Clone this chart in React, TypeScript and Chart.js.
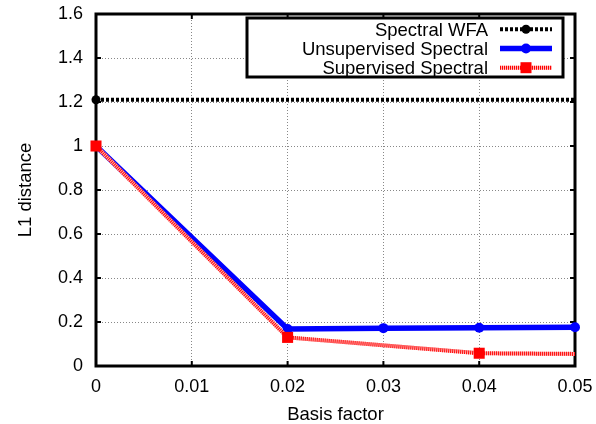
import React, { useEffect, useRef } from "react";
import { Chart, registerables } from "chart.js";

Chart.register(...registerables);

const seriesNames = ["Spectral WFA", "Unsupervised Spectral", "Supervised Spectral"];
const wfaX = [0, 0.05];
const wfaY = [1.21, 1.21];
const unsupX = [0, 0.02, 0.03, 0.04, 0.05];
const unsupY = [1.0, 0.168, 0.172, 0.174, 0.176];
const supX = [0, 0.02, 0.04, 0.05];
const supY = [1.0, 0.13, 0.058, 0.055];
const xTickValues = [0, 0.01, 0.02, 0.03, 0.04, 0.05];
const yTickValues = [0, 0.2, 0.4, 0.6, 0.8, 1, 1.2, 1.4, 1.6];
const xTitle = "Basis factor";
const yTitle = "L1 distance";

const FONT = "'Liberation Sans', Arial, Helvetica, sans-serif";
const TICK_SIZE = 18;
const TEXT_SIZE = 18.5;

const toPoints = (xs: number[], ys: number[]) => xs.map((x, i) => ({ x, y: ys[i] }));

const framePlugin = {
  id: "frame",
  beforeDatasetsDraw(chart: any) {
    const { ctx, chartArea } = chart;
    const { left, right, top, bottom } = chartArea;
    const xs = chart.scales.x;
    const ys = chart.scales.y;
    ctx.save();
    ctx.strokeStyle = "#000";
    ctx.lineWidth = 2;
    ctx.setLineDash([]);
    const t = 5;
    yTickValues.forEach((v) => {
      const py = ys.getPixelForValue(v);
      ctx.beginPath();
      ctx.moveTo(left, py);
      ctx.lineTo(left + t, py);
      ctx.moveTo(right, py);
      ctx.lineTo(right - t, py);
      ctx.stroke();
    });
    xTickValues.forEach((v) => {
      const px = xs.getPixelForValue(v);
      ctx.beginPath();
      ctx.moveTo(px, bottom);
      ctx.lineTo(px, bottom - t);
      ctx.moveTo(px, top);
      ctx.lineTo(px, top + t);
      ctx.stroke();
    });
    ctx.lineWidth = 3;
    ctx.strokeRect(left, top, right - left, bottom - top);
    ctx.restore();
  },
};

const legendPlugin = {
  id: "customLegend",
  afterDraw(chart: any) {
    const { ctx } = chart;
    const bx = 247, by = 18, bw = 316, bh = 59;
    ctx.save();
    ctx.fillStyle = "#fff";
    ctx.fillRect(bx, by, bw, bh);
    ctx.strokeStyle = "#000";
    ctx.lineWidth = 3;
    ctx.setLineDash([]);
    ctx.strokeRect(bx, by, bw, bh);
    const rows = [29.3, 48.5, 67.7];
    ctx.font = `${TEXT_SIZE}px ${FONT}`;
    ctx.textAlign = "right";
    ctx.textBaseline = "alphabetic";
    const x0 = 500, x1 = 552, xm = 526;
    seriesNames.forEach((name, i) => {
      const y = rows[i];
      ctx.fillStyle = "#000";
      ctx.fillText(name, 488, y + 6.5);
      if (i === 2) {
        ctx.beginPath();
        ctx.strokeStyle = "#ffb4b4";
        ctx.lineWidth = 4;
        ctx.setLineDash([]);
        ctx.moveTo(x0, y);
        ctx.lineTo(x1, y);
        ctx.stroke();
      }
      ctx.beginPath();
      if (i === 0) {
        ctx.strokeStyle = "#000";
        ctx.lineWidth = 4;
        ctx.setLineDash([3, 2]);
      } else if (i === 1) {
        ctx.strokeStyle = "#0000ff";
        ctx.lineWidth = 5.5;
        ctx.setLineDash([]);
      } else {
        ctx.strokeStyle = "#ff0000";
        ctx.lineWidth = 4;
        ctx.setLineDash([1, 1]);
      }
      ctx.moveTo(x0, y);
      ctx.lineTo(x1, y);
      ctx.stroke();
      ctx.setLineDash([]);
      if (i === 0) {
        ctx.fillStyle = "#000";
        ctx.beginPath();
        ctx.arc(xm, y, 4.5, 0, Math.PI * 2);
        ctx.fill();
      } else if (i === 1) {
        ctx.fillStyle = "#0000ff";
        ctx.beginPath();
        ctx.arc(xm, y, 5, 0, Math.PI * 2);
        ctx.fill();
      } else {
        ctx.fillStyle = "#ff0000";
        ctx.fillRect(xm - 5.5, y - 5.5, 11, 11);
      }
    });
    ctx.restore();
  },
};

export default function App() {
  const canvasRef = useRef<HTMLCanvasElement | null>(null);

  useEffect(() => {
    document.body.style.margin = "0";
    const canvas = canvasRef.current;
    if (!canvas) return;
    Chart.defaults.font.family = FONT;
    Chart.defaults.color = "#000";
    const chart = new Chart(canvas, {
      type: "line",
      data: {
        datasets: [
          {
            label: seriesNames[0],
            data: toPoints(wfaX, wfaY),
            borderColor: "#000",
            backgroundColor: "#000",
            borderWidth: 4,
            borderDash: [3, 2],
            pointRadius: [4.5, 0],
            pointBorderWidth: 0,
            pointStyle: "circle",
            order: 4,
            clip: false,
          },
          {
            label: seriesNames[1],
            data: toPoints(unsupX, unsupY),
            borderColor: "#0000ff",
            backgroundColor: "#0000ff",
            borderWidth: 5.5,
            pointRadius: 5,
            pointBorderWidth: 0,
            pointStyle: "circle",
            order: 3,
            clip: false,
          },
          {
            label: seriesNames[2] + " shade",
            data: toPoints(supX, supY),
            borderColor: "#ffb4b4",
            backgroundColor: "#ffb4b4",
            borderWidth: 4,
            pointRadius: 0,
            order: 2,
            clip: false,
          },
          {
            label: seriesNames[2],
            data: toPoints(supX, supY),
            borderColor: "#ff0000",
            backgroundColor: "#ff0000",
            borderWidth: 4,
            borderDash: [1, 1],
            pointRadius: [7.8, 7.8, 7.8, 0],
            pointBorderWidth: 0,
            pointStyle: "rect",
            order: 1,
            clip: false,
          },
        ],
      },
      options: {
        animation: false,
        responsive: false,
        maintainAspectRatio: false,
        layout: { padding: { left: 0, top: 14, right: 21, bottom: 0 } },
        plugins: {
          legend: { display: false },
          tooltip: { enabled: false },
        },
        scales: {
          x: {
            type: "linear",
            min: 0,
            max: 0.05,
            afterBuildTicks: (s: any) => {
              s.ticks = xTickValues.map((v) => ({ value: v }));
            },
            afterFit: (s: any) => {
              s.height = 58;
              s.paddingLeft = 0;
              s.paddingRight = 0;
            },
            ticks: {
              font: { size: TICK_SIZE },
              color: "#000",
              padding: 10,
              maxRotation: 0,
              autoSkip: false,
              callback: (v: any) => String(v),
            },
            grid: {
              color: "#888",
              lineWidth: 1,
              drawTicks: false,
            },
            border: { display: false, dash: [1, 2] },
            title: {
              display: true,
              text: xTitle,
              font: { size: TEXT_SIZE },
              color: "#000",
              padding: { top: 0, bottom: -2 },
            },
          },
          y: {
            type: "linear",
            min: 0,
            max: 1.6,
            afterBuildTicks: (s: any) => {
              s.ticks = yTickValues.map((v) => ({ value: v }));
            },
            afterFit: (s: any) => {
              s.width = 96;
              s.paddingTop = 0;
              s.paddingBottom = 0;
            },
            ticks: {
              font: { size: TICK_SIZE },
              color: "#000",
              padding: 13,
              autoSkip: false,
              callback: (v: any) => String(Math.round(v * 10) / 10),
            },
            grid: {
              color: "#888",
              lineWidth: 1,
              drawTicks: false,
            },
            border: { display: false, dash: [1, 2] },
            title: {
              display: true,
              text: yTitle,
              font: { size: TEXT_SIZE },
              color: "#000",
              padding: { top: 15, bottom: 0 },
            },
          },
        },
      },
      plugins: [framePlugin, legendPlugin],
    } as any);
    return () => chart.destroy();
  }, []);

  return (
    <div style={{ position: "fixed", left: 0, top: 0, width: 596, height: 424, background: "#fff" }}>
      <canvas ref={canvasRef} width={596} height={424} style={{ width: 596, height: 424 }} />
    </div>
  );
}
